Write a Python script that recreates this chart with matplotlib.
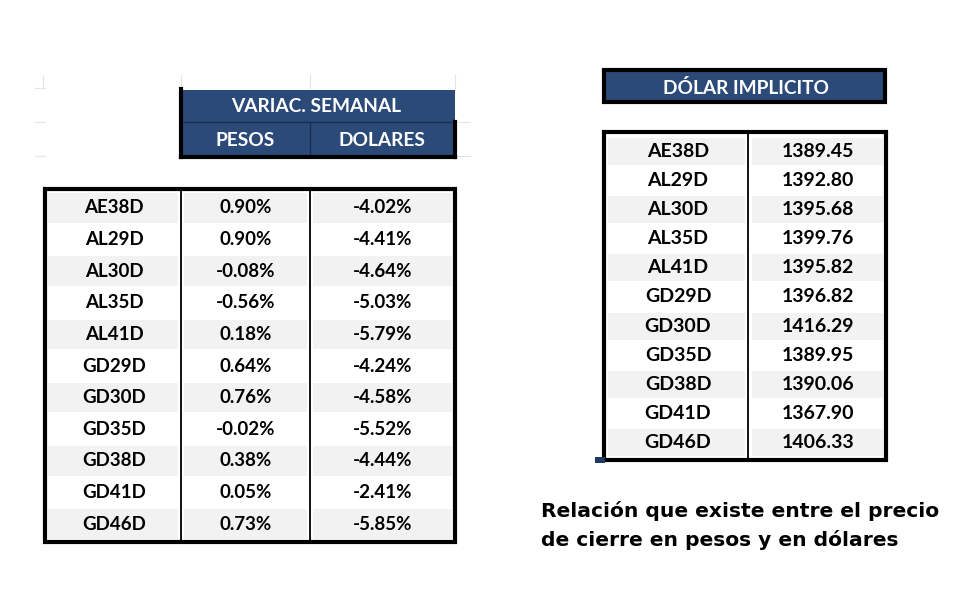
import matplotlib
matplotlib.use("Agg")
import matplotlib.pyplot as plt
from matplotlib.patches import Rectangle

# datos
bonos = ["AE38D", "AL29D", "AL30D", "AL35D", "AL41D", "GD29D",
         "GD30D", "GD35D", "GD38D", "GD41D", "GD46D"]
var_pesos = [0.90, 0.90, -0.08, -0.56, 0.18, 0.64, 0.76, -0.02, 0.38, 0.05, 0.73]
var_dolares = [-4.02, -4.41, -4.64, -5.03, -5.79, -4.24, -4.58, -5.52, -4.44, -2.41, -5.85]
dolar_implicito = [1389.45, 1392.80, 1395.68, 1399.76, 1395.82, 1396.82,
                   1416.29, 1389.95, 1390.06, 1367.90, 1406.33]

azul = "#2b4a78"
gris = "#f2f2f2"
fuente = "Lato"
fs_izq = 13.5
fs_der = 14

fig = plt.figure(figsize=(9.8, 6), dpi=100)
ax = fig.add_axes([0, 0, 1, 1])
ax.set_xlim(0, 980)
ax.set_ylim(600, 0)
ax.axis("off")


def celda(x0, x1, y0, y1, color):
    ax.add_patch(Rectangle((x0, y0), x1 - x0, y1 - y0, facecolor=color,
                           edgecolor="none", zorder=1))


def linea(xs, ys, lw):
    ax.plot(xs, ys, color="black", lw=lw, solid_capstyle="projecting", zorder=3)


# lineas de cuadricula tipo excel (muy tenues)
for y in [122, 156]:
    ax.plot([455, 470], [y, y], color="#e4e4e4", lw=0.8, zorder=0)
for x in [181, 310, 455]:
    ax.plot([x, x], [75, 88], color="#e4e4e4", lw=0.8, zorder=0)
for y in [88, 122, 156]:
    ax.plot([35, 45], [y, y], color="#e4e4e4", lw=0.8, zorder=0)
ax.plot([43, 43], [76, 88], color="#e4e4e4", lw=0.8, zorder=0)

# ---------- tabla izquierda ----------
cols = [45, 181, 310, 455]
top, bot = 192, 540
h = (bot - top) / len(bonos)

# encabezado
celda(181, 455, 90, 156, azul)
ax.plot([181, 455], [122, 122], color="#1a2f50", lw=1, zorder=2)
ax.plot([310, 310], [122, 156], color="#1a2f50", lw=1, zorder=2)
ax.text(316, 107, "VARIAC. SEMANAL", color="white", fontsize=13.8,
        fontweight="bold", family=fuente, ha="center", va="center", zorder=4)
ax.text(245, 140, "PESOS", color="white", fontsize=13.8, fontweight="bold",
        family=fuente, ha="center", va="center", zorder=4)
ax.text(382, 140, "DOLARES", color="white", fontsize=13.8, fontweight="bold",
        family=fuente, ha="center", va="center", zorder=4)
linea([181, 181], [89, 157], 3)
linea([181, 455], [157, 157], 3)
linea([455, 455], [122, 157], 3)

for i, b in enumerate(bonos):
    y0 = top + i * h
    if i % 2 == 0:
        for c in range(3):
            celda(cols[c] + 3, cols[c + 1] - 3, y0 + 1, y0 + h - 1, gris)
    yc = y0 + h / 2
    ax.text((cols[0] + cols[1]) / 2 + 1, yc, b, fontsize=fs_izq, fontweight="bold",
            family=fuente, ha="center", va="center", zorder=4)
    ax.text((cols[1] + cols[2]) / 2, yc, f"{var_pesos[i]:.2f}%", fontsize=fs_izq,
            fontweight="bold", family=fuente, ha="center", va="center", zorder=4)
    ax.text((cols[2] + cols[3]) / 2, yc, f"{var_dolares[i]:.2f}%", fontsize=fs_izq,
            fontweight="bold", family=fuente, ha="center", va="center", zorder=4)

ax.add_patch(Rectangle((cols[0], 189), cols[3] - cols[0], bot + 2 - 189,
                       facecolor="none", edgecolor="black", lw=3, zorder=3))
linea([cols[1], cols[1]], [189, bot + 2], 1.3)
linea([cols[2], cols[2]], [189, bot + 2], 1.3)

# ---------- tabla derecha ----------
celda(604, 885, 70, 102, azul)
ax.add_patch(Rectangle((604, 70), 281, 32, facecolor="none", edgecolor="black",
                       lw=3, zorder=3))
ax.text(746, 88, "DÓLAR IMPLICITO", color="white", fontsize=13.8, fontweight="bold",
        family=fuente, ha="center", va="center", zorder=4)

cols2 = [604, 748, 886]
top2, bot2 = 137, 457
h2 = (bot2 - top2) / len(bonos)
for i, b in enumerate(bonos):
    y0 = top2 + i * h2
    if i % 2 == 0:
        for c in range(2):
            celda(cols2[c] + 4, cols2[c + 1] - 3, y0 + 1, y0 + h2 - 1, gris)
    yc = y0 + h2 / 2
    ax.text((cols2[0] + cols2[1]) / 2 + 2, yc, b, fontsize=fs_der, fontweight="bold",
            family=fuente, ha="center", va="center", zorder=4)
    ax.text((cols2[1] + cols2[2]) / 2 + 1, yc, f"{dolar_implicito[i]:.2f}", fontsize=fs_der,
            fontweight="bold", family=fuente, ha="center", va="center", zorder=4)

ax.add_patch(Rectangle((cols2[0], 132), cols2[2] - cols2[0], 460 - 132,
                       facecolor="none", edgecolor="black", lw=3, zorder=3))
linea([cols2[1], cols2[1]], [132, 460], 1.3)
ax.add_patch(Rectangle((595, 457), 10, 6, facecolor="#1f3864", edgecolor="none", zorder=5))

# nota
ax.text(541, 511, "Relación que existe entre el precio", fontsize=14.6,
        fontweight="bold", family="DejaVu Sans", ha="left", va="center")
ax.text(541, 540, "de cierre en pesos y en dólares", fontsize=14.6,
        fontweight="bold", family="DejaVu Sans", ha="left", va="center")

fig.savefig("out.png", dpi=100, facecolor="white")
